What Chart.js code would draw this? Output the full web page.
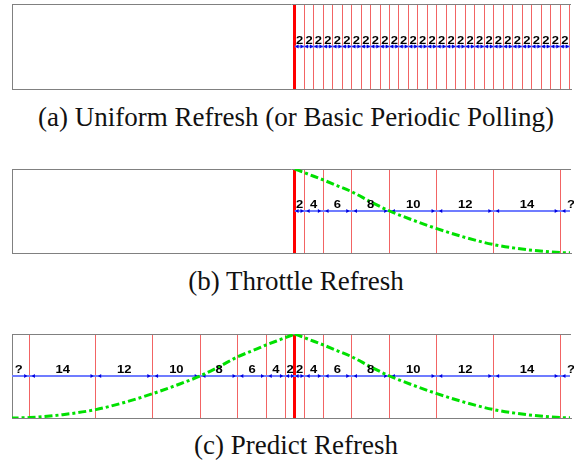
<!DOCTYPE html>
<html>
<head>
<meta charset="utf-8">
<script src="https://cdn.jsdelivr.net/npm/chart.js@4.4.1/dist/chart.umd.min.js"></script>
<style>
  html, body { margin: 0; padding: 0; background: #fff; overflow: hidden; }
  #page { position: relative; width: 574px; height: 466px; }
  .panel { position: absolute; left: 0; display: block; }
  .caption { position: absolute; left: 296px; transform: translateX(-50%); white-space: nowrap;
    font-family: "Liberation Serif", serif; font-size: 27px; line-height: 27px; color: #111; }
</style>
</head>
<body>
<div id="page">
  <canvas id="uniform" class="panel" style="top:0" width="574" height="93"></canvas>
  <div class="caption" style="top:104px">(a) Uniform Refresh (or Basic Periodic Polling)</div>
  <canvas id="throttle" class="panel" style="top:165px" width="574" height="92"></canvas>
  <div class="caption" style="top:268px">(b) Throttle Refresh</div>
  <canvas id="predict" class="panel" style="top:330px" width="574" height="92"></canvas>
  <div class="caption" style="top:432px">(c) Predict Refresh</div>
</div>
<script>
// refresh intervals (time units), counted out from the refresh at t = 0
var uniformSteps = [2, 2, 2, 2, 2, 2, 2, 2, 2, 2, 2, 2, 2, 2, 2, 2, 2, 2, 2, 2, 2, 2, 2, 2, 2, 2, 2, 2, 2];
var throttleSteps = [2, 4, 6, 8, 10, 12, 14];
var openLabel = '?';

// freshness decay after a refresh
var decayTime  = [0, 3, 6, 9, 12, 16, 20, 25, 30, 36, 42, 49, 56, 60];
var decayValue = [1.0, 0.935, 0.87, 0.80, 0.73, 0.61, 0.5, 0.39, 0.29, 0.185, 0.10, 0.04, 0.005, 0];

var arrowLevel = 0.5;
var xMin = -59.7;
var xMax = 58.1;

function cumulate(steps){
    var edges = [0], sum = 0;
    steps.forEach(function(s){ sum += s; edges.push(sum); });
    return edges;
}

function buildIntervals(steps, mirror){
    var edges = cumulate(steps);
    var list = [];
    for (var i = 0; i < steps.length; i++) {
        list.push({from: edges[i], to: edges[i + 1], text: String(steps[i])});
        if (mirror) list.push({from: -edges[i + 1], to: -edges[i], text: String(steps[i])});
    }
    return list;
}

// numbers above each arrow, drawn a bit stretched like the old figure font
var stepLabels = {
    id: 'stepLabels',
    afterDatasetsDraw: function(chart, args, opts){
        var ctx = chart.ctx;
        var x = chart.scales.x, y = chart.scales.y;
        var base = y.getPixelForValue(arrowLevel) - 3;
        ctx.save();
        ctx.font = 'bold 10px "Liberation Sans", Arial, sans-serif';
        ctx.fillStyle = '#000';
        ctx.textAlign = 'center';
        ctx.textBaseline = 'alphabetic';
        opts.items.forEach(function(it){
            ctx.save();
            ctx.translate(x.getPixelForValue(it.x), base);
            ctx.scale(1.3, 1);
            ctx.fillText(it.text, 0, 0);
            ctx.restore();
        });
        ctx.restore();
    }
};

function decayDataset(points){
    return {
        data: points,
        borderColor: '#00e000',
        borderWidth: 3,
        borderDash: [8, 3, 3, 3],
        pointRadius: 0,
        cubicInterpolationMode: 'monotone'
    };
}

function makePanel(id, steps, mirror, withOpen, withDecay){
    var intervals = buildIntervals(steps, mirror);
    var edges = cumulate(steps);
    var last = edges[edges.length - 1];
    var ticks = [0];
    edges.slice(1).forEach(function(e){
        ticks.push(e);
        if (mirror) ticks.push(-e);
    });

    var heads = [], rot = [];
    intervals.forEach(function(iv){
        var e = Math.min(0.9, (iv.to - iv.from) * 0.28);
        heads.push({x: iv.from + e, y: arrowLevel}); rot.push(-90);
        heads.push({x: iv.to - e, y: arrowLevel}); rot.push(90);
    });
    var labels = intervals.map(function(iv){
        return {x: (iv.from + iv.to) / 2, text: iv.text};
    });
    if (withOpen) {
        heads.push({x: last + 0.9, y: arrowLevel}); rot.push(-90);
        labels.push({x: last + 2.3, text: openLabel});
        if (mirror) {
            heads.push({x: -last - 0.9, y: arrowLevel}); rot.push(90);
            labels.push({x: -last - 2.3, text: openLabel});
        }
    }

    var datasets = [];
    if (withDecay) {
        datasets.push(decayDataset(decayTime.map(function(t, i){ return {x: t, y: decayValue[i]}; })));
        if (mirror) {
            datasets.push(decayDataset(decayTime.map(function(t, i){ return {x: -t, y: decayValue[i]}; }).reverse()));
        }
    }
    datasets.push({
        data: heads,
        showLine: false,
        pointStyle: 'triangle',
        pointRadius: 2.2,
        pointBorderWidth: 0,
        pointBackgroundColor: '#0000e0',
        pointRotation: rot
    });
    datasets.push({
        data: [{x: mirror ? xMin : 0, y: arrowLevel}, {x: xMax, y: arrowLevel}],
        borderColor: '#6f7cff',
        borderWidth: 2,
        pointRadius: 0
    });

    var grey = '#808080';
    new Chart(document.getElementById(id), {
        type: 'line',
        data: { datasets: datasets },
        options: {
            responsive: false,
            animation: false,
            layout: { padding: { left: 12, right: 0, top: 0, bottom: 1 } },
            plugins: {
                legend: { display: false },
                tooltip: { enabled: false },
                stepLabels: { items: labels }
            },
            scales: {
                x: {
                    type: 'linear',
                    min: xMin,
                    max: xMax,
                    afterBuildTicks: function(scale){
                        scale.ticks = ticks.map(function(v){ return {value: v}; });
                    },
                    ticks: { display: false },
                    grid: {
                        drawTicks: false,
                        color: function(c){ return c.tick && c.tick.value === 0 ? '#ff0000' : '#f26464'; },
                        lineWidth: function(c){ return c.tick && c.tick.value === 0 ? 3 : 1; }
                    },
                    border: { color: grey }
                },
                xTop: {
                    type: 'linear',
                    axis: 'x',
                    position: 'top',
                    ticks: { display: false },
                    grid: { display: false, drawTicks: false },
                    border: { color: grey }
                },
                y: {
                    min: 0,
                    max: 1,
                    ticks: { display: false },
                    grid: { display: false, drawTicks: false },
                    border: { color: grey }
                }
            }
        },
        plugins: [stepLabels]
    });
}

makePanel('uniform', uniformSteps, false, false, false);
makePanel('throttle', throttleSteps, false, true, true);
makePanel('predict', throttleSteps, true, true, true);
</script>
</body>
</html>
